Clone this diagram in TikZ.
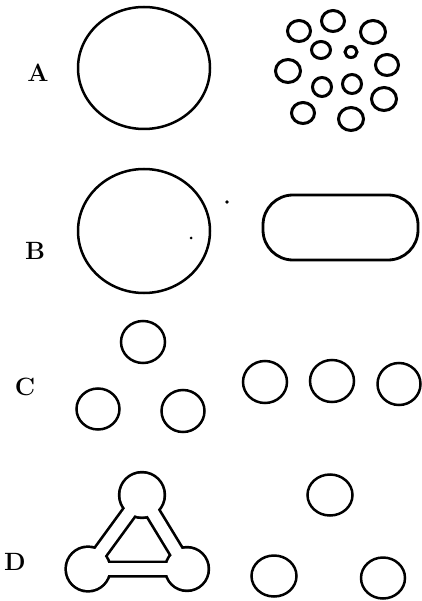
\documentclass[tikz,border=0pt]{standalone}
\begin{document}
\begin{tikzpicture}[x=1pt,y=-1pt,
  ring/.style={draw=black,line width=2.5pt},
  thickring/.style={draw=black,line width=3pt},
  lbl/.style={font=\fontsize{25}{25}\selectfont\bfseries,inner sep=0pt}]
\useasboundingbox (0,0) rectangle (421,601);
% labels
\node[lbl] (la) at (38,73) {A};
\node[lbl] (lb) at (35,251) {B};
\node[lbl] (lc) at (25,387) {C};
\node[lbl] (ld) at (15,562) {D};
% A
\draw[ring] (144,68) ellipse [x radius=66pt, y radius=61pt];
\foreach \cx/\cy/\rx/\ry in {299/31/11.5/10.5, 333/21/11.5/10.5, 373/32/12.5/11.5,
  321/50/9.5/8.5, 351/52/6/5.5, 387/65/11.5/10.5, 288/71/12.5/11.5,
  322/87/9.5/9.5, 352/84/9.5/9.5, 384/99/12.5/11.5, 303/113/11.5/10.5, 351/119/12.5/11.5}
  \draw[thickring] (\cx,\cy) ellipse [x radius=\rx pt, y radius=\ry pt];
% B
\draw[ring] (144,231) ellipse [x radius=66pt, y radius=62pt];
\fill (191,238) circle [radius=1.5pt];
\fill (227,202) circle [radius=1.8pt];
\draw[ring,line width=2.8pt,rounded corners=30pt] (263,195) rectangle (418,260);
% C
\draw[ring] (143,342) ellipse [x radius=22pt, y radius=21pt];
\draw[ring] (98,409) ellipse [x radius=21.5pt, y radius=20.5pt];
\draw[ring] (183,411) ellipse [x radius=21.5pt, y radius=21pt];
\draw[ring] (265,382) ellipse [x radius=22pt, y radius=21pt];
\draw[ring] (332,381) ellipse [x radius=22pt, y radius=21pt];
\draw[ring] (399,384) ellipse [x radius=21.5pt, y radius=21pt];
% D left: joined triangle
\coordinate (dt) at (142,495);
\coordinate (dl) at (88,569);
\coordinate (dr) at (187,569);
\fill[black] (dt) circle [radius=24.2pt] (dl) circle [radius=23.7pt] (dr) circle [radius=23.2pt];
\draw[black,line width=17pt,line join=miter] (dt) -- (dl) -- (dr) -- cycle;
\fill[white] (dt) circle [radius=21.5pt] (dl) circle [radius=21pt] (dr) circle [radius=20.5pt];
\draw[white,line width=11.6pt,line join=miter] (dt) -- (dl) -- (dr) -- cycle;
% D right
\draw[ring] (330,495) ellipse [x radius=22.5pt, y radius=20.5pt];
\draw[ring] (274,576) ellipse [x radius=22.5pt, y radius=20.5pt];
\draw[ring] (383,578) ellipse [x radius=22pt, y radius=20.5pt];
\end{tikzpicture}
\end{document}
